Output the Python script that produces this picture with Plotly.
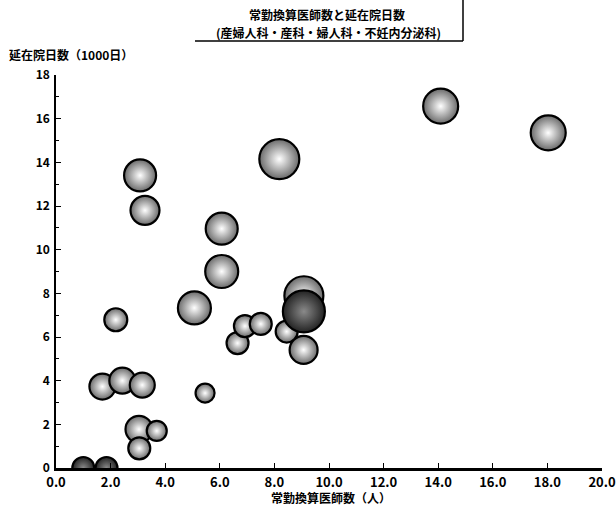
import plotly.graph_objects as go

# data
doctors = [1.0, 1.85, 3.08, 3.26, 8.18, 6.07, 6.07, 5.07, 2.19, 5.46,
           6.65, 6.92, 7.5, 8.45, 9.08, 9.07, 1.7, 2.43, 3.16,
           3.04, 3.69, 3.05, 14.09, 18.03, 9.08]
inpatient_days = [0.0, 0.0, 13.4, 11.8, 14.15, 10.96, 9.0, 7.33, 6.79, 3.43,
                  5.72, 6.5, 6.6, 6.25, 7.89, 5.41, 3.73, 4.0, 3.8,
                  1.77, 1.7, 0.9, 16.57, 15.35, 7.17]
bubble_value = [22, 22, 32, 29, 40, 32, 33, 33, 23, 19,
                22, 22, 22, 22, 39, 28, 26, 26, 25,
                27, 20, 22, 35, 35, 42]
is_dark = [1, 1, 0, 0, 0, 0, 0, 0, 0, 0,
           0, 0, 0, 0, 0, 0, 0, 0, 0,
           0, 0, 0, 0, 0, 1]

x_ticks = [0, 2, 4, 6, 8, 10, 12, 14, 16, 18, 20]
y_ticks = [0, 2, 4, 6, 8, 10, 12, 14, 16, 18]

title_line1 = "常勤換算医師数と延在院日数"
title_line2 = "(産婦人科・産科・婦人科・不妊内分泌科)"
x_title = "常勤換算医師数（人）"
y_title = "延在院日数（1000日）"

FONT = "Noto Sans CJK JP"

fig = go.Figure()

light_idx = [i for i, d in enumerate(is_dark) if not d]
dark_idx = [i for i, d in enumerate(is_dark) if d]

for idx, col, grad in [(light_idx, "#6a6a6a", "#ffffff"),
                       (dark_idx, "#222222", "#8a8a8a")]:
    fig.add_trace(go.Scatter(
        x=[doctors[i] for i in idx],
        y=[inpatient_days[i] for i in idx],
        mode="markers",
        marker=dict(size=[bubble_value[i] for i in idx], sizemode="diameter",
                    color=col, gradient=dict(type="radial", color=grad),
                    line=dict(color="black", width=2.2), opacity=1),
        cliponaxis=True, showlegend=False, hoverinfo="x+y"))

L, R, T, B = 56, 14, 75, 39
W, H = 616, 507
pw, ph = W - L - R, H - T - B


def px(xp):
    return (xp - L) / pw


def py(yp):
    return (H - B - yp) / ph


fig.update_layout(
    width=W, height=H,
    margin=dict(l=L, r=R, t=T, b=B, autoexpand=False),
    paper_bgcolor="white", plot_bgcolor="white",
    font=dict(family=FONT, color="black"),
    xaxis=dict(range=[0, 20], tickvals=x_ticks, tickformat=".1f",
               ticks="inside", ticklen=5, tickcolor="black", tickwidth=1,
               showline=True, linecolor="black", linewidth=2.5,
               showgrid=False, zeroline=False, mirror=False,
               automargin=False, ticklabeloverflow="allow",
               ticklabelstandoff=1,
               tickfont=dict(family=FONT, size=13, color="black", weight="bold")),
    yaxis=dict(range=[0, 18], tickvals=y_ticks,
               ticks="inside", ticklen=5, tickcolor="black", tickwidth=1,
               minor=dict(ticks="inside", ticklen=3, dtick=1, tickcolor="black"),
               showline=True, linecolor="black", linewidth=1.5,
               showgrid=False, zeroline=False, automargin=False,
               ticklabelstandoff=2,
               tickfont=dict(family=FONT, size=12, color="black", weight="bold")),
    annotations=[
        dict(text="<b>" + title_line1 + "</b>", xref="paper", yref="paper",
             x=px(327), y=py(15), xanchor="center", yanchor="middle",
             showarrow=False, font=dict(size=12)),
        dict(text="<b>" + title_line2 + "</b>", xref="paper", yref="paper",
             x=px(328), y=py(32), xanchor="center", yanchor="middle",
             showarrow=False, font=dict(size=12)),
        dict(text="<b>" + y_title + "</b>", xref="paper", yref="paper",
             x=px(7), y=py(54), xanchor="left", yanchor="middle",
             showarrow=False, font=dict(size=12)),
        dict(text="<b>" + x_title + "</b>", xref="paper", yref="paper",
             x=px(331), y=py(498), xanchor="center", yanchor="middle",
             showarrow=False, font=dict(size=12)),
    ],
    shapes=[
        dict(type="line", xref="paper", yref="paper",
             x0=px(195), x1=px(463), y0=py(41), y1=py(41),
             line=dict(color="black", width=1.5)),
        dict(type="line", xref="paper", yref="paper",
             x0=px(463), x1=px(463), y0=py(0), y1=py(41),
             line=dict(color="black", width=1.5)),
    ],
)

fig.write_html("out.html", config={"displayModeBar": False},
               post_script="document.body.style.margin='0';document.body.style.overflow='hidden';")
